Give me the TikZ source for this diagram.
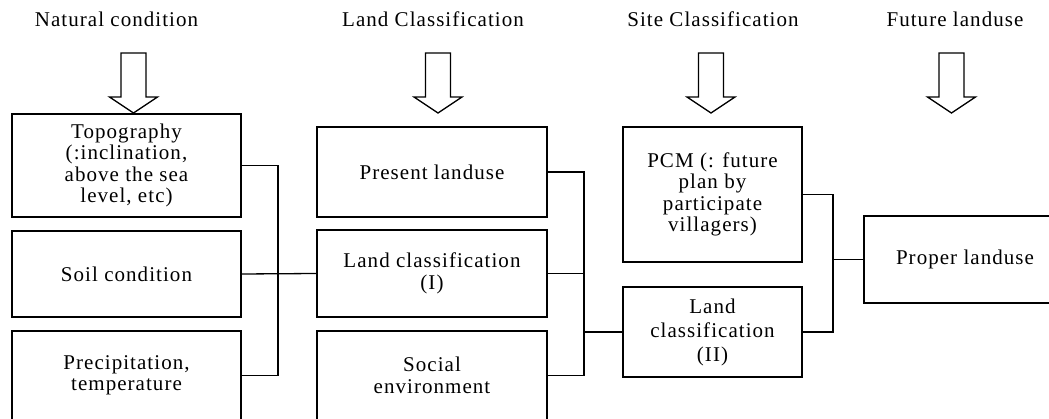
\documentclass[tikz,border=0pt]{standalone}
\usepackage{fontspec}
\setmainfont{Liberation Serif}[LetterSpace=5]
\begin{document}
\begin{tikzpicture}[x=1pt,y=-1pt,
  line width=1.3pt,
  txt/.style={font=\fontsize{21}{21.5}\selectfont},
  box/.style={draw, line width=1.3pt, inner sep=0pt, align=center, txt},
  title/.style={txt, anchor=base},
  link/.style={line width=1.3pt},
  bigarrow/.style={draw, line width=1.3pt, line join=miter}]
\clip (0,0) rectangle (1049,419);
\fill[white] (0,0) rectangle (1049,419);
% titles
\node[title] (t1) at (116.5,27) {Natural condition};
\node[title] (t2) at (433,27) {Land Classification};
\node[title] (t3) at (713,27) {Site Classification};
\node[title] (t4) at (955,27) {Future landuse};
% big down arrows
\foreach \cx in {133.5,438,711,951.5}{
  \draw[bigarrow] (\cx-12.5,53) -- (\cx+12.5,53) -- (\cx+12.5,97) -- (\cx+24,97)
    -- (\cx,113) -- (\cx-24,97) -- (\cx-12.5,97) -- cycle;
}
% column 1
\node[box, minimum width=229, minimum height=103] (b11) at (126.5,165.5)
  {Topography\\(:inclination,\\above the sea\\level, etc)};
\node[box, minimum width=229, minimum height=86] (b12) at (126.5,274) {Soil condition};
\node[box, minimum width=229, minimum height=89] (b13) at (126.5,375.5)
  {Precipitation,\\temperature};
% column 2
\node[box, minimum width=230, minimum height=90] (b21) at (432,172) {Present landuse};
\node[box, minimum width=230, minimum height=87] (b22) at (432,273.5)
  {Land classification\\(I)};
\node[box, minimum width=230, minimum height=89] (b23) at (432,375.5)
  {Social\\environment};
% column 3
\node[box, minimum width=179, minimum height=135] (b31) at (712.5,194.5)
  {PCM (: future\\plan by\\participate\\villagers)};
\node[box, minimum width=179, minimum height=90, font=\fontsize{21}{24}\selectfont] (b32) at (712.5,332)
  {Land\\classification\\(II)};
% column 4
\node[box, minimum width=202, minimum height=87] (b4) at (965,259.5) {Proper landuse};
% junction coordinates
\coordinate (j1) at (278,0);
\coordinate (j2) at (584,0);
\coordinate (j3) at (833,0);
% connectors
\draw[link] (b11.east) -- (b11.east -| j1) |- (b13.east);
\draw[link] (b12.east) -- (b22.west);
\draw[link] (b21.east) -- (b21.east -| j2) |- (b23.east);
\draw[link] (b22.east) -- (b22.east -| j2);
\draw[link] (b32.west -| j2) -- (b32.west);
\draw[link] (b31.east) -- (b31.east -| j3) |- (b32.east);
\draw[link] (b4.west -| j3) -- (b4.west);
\end{tikzpicture}
\end{document}
